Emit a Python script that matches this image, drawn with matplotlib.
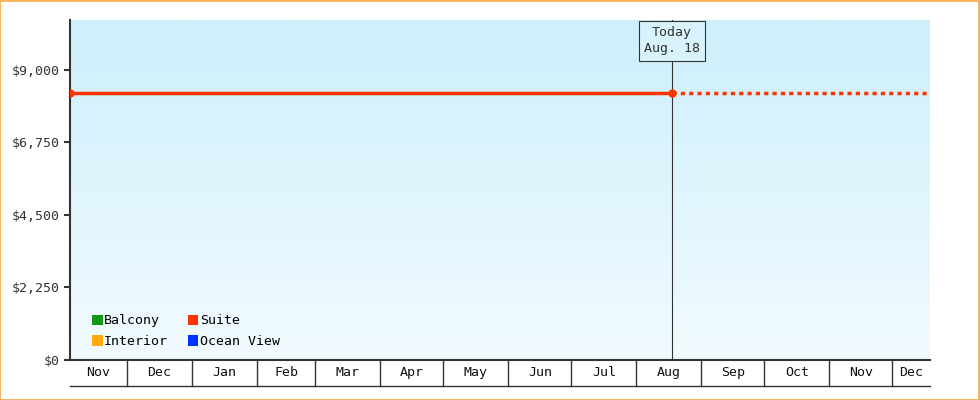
import matplotlib
matplotlib.use("Agg")
import matplotlib.pyplot as plt
import matplotlib.dates as mdates
import numpy as np
from datetime import date
from matplotlib.patches import Rectangle
from matplotlib.ticker import FuncFormatter

plt.rcParams['font.family'] = ['DejaVu Sans Mono']

x_start = date(2022, 11, 4)
x_end = date(2023, 12, 19)
today = date(2023, 8, 18)
suite_dates = [date(2022, 11, 4), date(2023, 8, 18)]
suite_values = [8300, 8300]
forecast_dates = [date(2023, 8, 18), date(2023, 12, 19)]
forecast_values = [8300, 8300]
y_ticks = [0, 2250, 4500, 6750, 9000]
legend_names = ['Balcony', 'Suite', 'Interior', 'Ocean View']
legend_colors = ['#119911', '#ff3300', '#ffaa11', '#0033ff']
month_starts = [date(2022, 11, 1), date(2022, 12, 1)] + [date(2023, m, 1) for m in range(1, 13)]

fig = plt.figure(figsize=(9.8, 4), dpi=100)
fig.patches.append(Rectangle((0.0005, 0.001), 0.998, 0.997, transform=fig.transFigure,
                             fill=False, edgecolor='#f5a742', linewidth=1.2))
ax = fig.add_axes([70/980, 40/400, 860/980, 340/400])

x0, x1 = mdates.date2num(x_start), mdates.date2num(x_end)
ymax = 10550
grad = np.linspace(0, 1, 256).reshape(-1, 1)
c_top = np.array([0xcd, 0xef, 0xfb]) / 255
c_bot = np.array([0xf2, 0xfb, 0xff]) / 255
img = c_bot + (c_top - c_bot) * grad[..., None]
ax.imshow(img, extent=[x0, x1, 0, ymax], origin='lower', aspect='auto', zorder=0)

ax.plot(suite_dates, suite_values, color='#ff3300', lw=2.5, marker='o', ms=5, zorder=3)
ax.plot(forecast_dates, forecast_values, color='#ff3300', lw=2.5, ls=(0, (1.2, 1.2)), zorder=3)
ax.axvline(today, color='#333333', lw=0.8, zorder=2)
ax.annotate('Today\nAug. 18', (mdates.date2num(today), ymax), xytext=(0, -15),
            textcoords='offset points', ha='center', va='center', fontsize=9.5,
            color='#333333', linespacing=1.3,
            bbox=dict(boxstyle='square,pad=0.4', fc='#d8f3fb', ec='#333333', lw=0.8))

ax.set_xlim(x0, x1)
ax.set_ylim(0, ymax)
ax.set_yticks(y_ticks)
ax.yaxis.set_major_formatter(FuncFormatter(lambda v, p: f'${v:,.0f}'))
ax.tick_params(axis='y', labelsize=9.5, colors='#333333', length=4, width=1.5)
ax.set_xticks([])
for s in ['top', 'right', 'bottom']:
    ax.spines[s].set_visible(False)
ax.spines['left'].set_linewidth(1.5)
ax.spines['left'].set_color('#333333')

# month boxes below axis
trans = ax.get_xaxis_transform()
ax.plot([x0, x1], [0, 0], transform=trans, color='#333333', lw=1.5, clip_on=False)
ax.plot([x0, x1], [-0.075, -0.075], transform=trans, color='#333333', lw=1, clip_on=False)
edges = [x0] + [mdates.date2num(d) for d in month_starts if x0 < mdates.date2num(d) < x1] + [x1]
for a, b in zip(edges[:-1], edges[1:]):
    if a != x0:
        ax.plot([a, a], [0, -0.075], transform=trans, color='#333333', lw=1, clip_on=False)
    lab = mdates.num2date((a + b) / 2).strftime('%b')
    ax.text((a + b) / 2, -0.038, lab, transform=trans, ha='center', va='center',
            fontsize=9.5, color='#111111')

handles = [Rectangle((0, 0), 1, 1, fc=c) for c in legend_colors]
order = [0, 2, 1, 3]
ax.legend([handles[i] for i in order], [legend_names[i] for i in order], ncol=2,
          loc='lower left', bbox_to_anchor=(0.012, 0.0), frameon=False, fontsize=9.5,
          handlelength=0.8, handleheight=0.8, handletextpad=0.1, columnspacing=1.5,
          labelspacing=0.6)

fig.savefig('out.png', dpi=100)
